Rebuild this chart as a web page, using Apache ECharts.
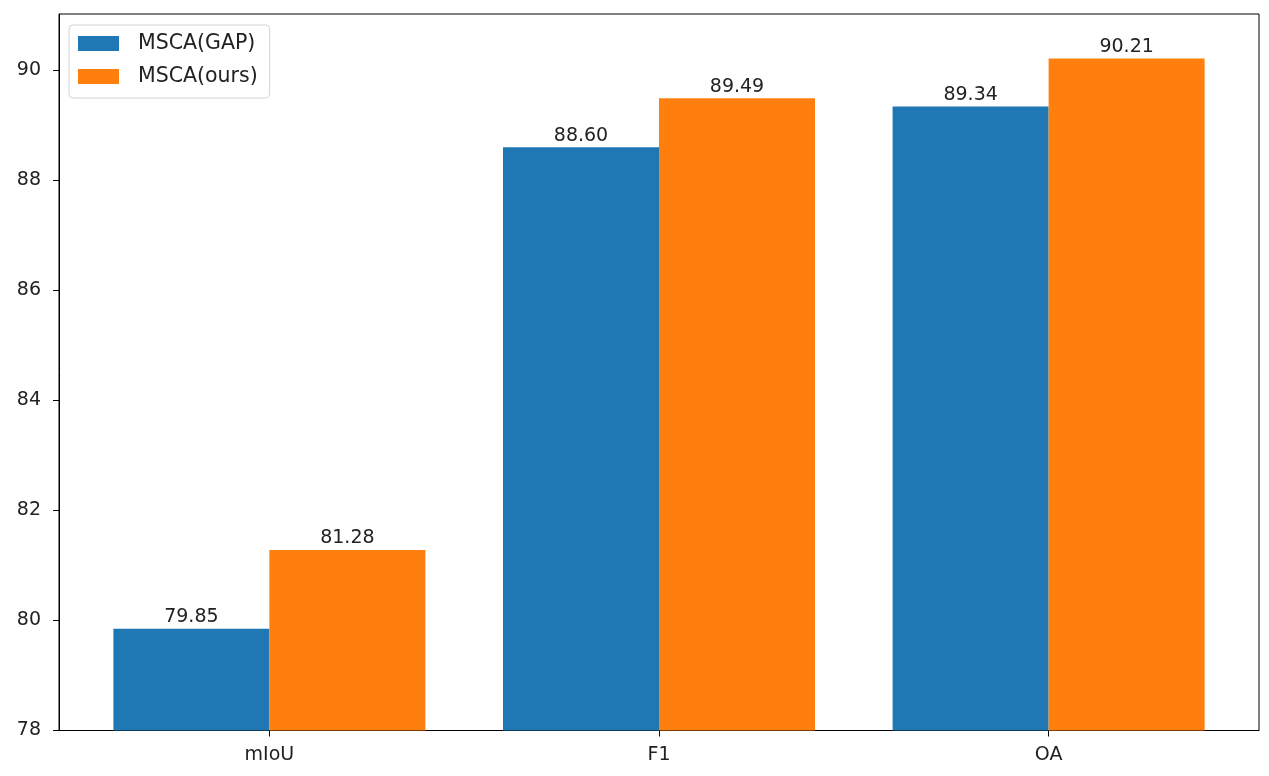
<!DOCTYPE html>
<html>
<head>
<meta charset="utf-8">
<script src="https://cdn.jsdelivr.net/npm/echarts@6/dist/echarts.min.js"></script>
<style>html,body{margin:0;padding:0;background:#fff;}#c{width:1269px;height:776px;}</style>
</head>
<body>
<div id="c"></div>
<script>
var categories = ['mIoU', 'F1', 'OA'];
var seriesNames = ['MSCA(GAP)', 'MSCA(ours)'];
var gapValues = [79.85, 88.60, 89.34];
var oursValues = [81.28, 89.49, 90.21];
var yTicks = [78, 80, 82, 84, 86, 88, 90];

var chart = echarts.init(document.getElementById('c'));
var font = 'DejaVu Sans';
function toPairs(arr) { return arr.map(function (v, i) { return [i, v]; }); }
var labelOpt = {
  show: true, position: 'top', distance: 2,
  fontFamily: font, fontSize: 19, color: '#222',
  formatter: function (p) { return p.value[1].toFixed(2); }
};
chart.setOption({
  animation: false,
  backgroundColor: '#fff',
  grid: { left: 59, right: 10, top: 14, bottom: 45.5, show: true, borderColor: '#000', borderWidth: 1, backgroundColor: 'transparent' },
  legend: {
    orient: 'vertical', left: 69, top: 25,
    itemWidth: 41, itemHeight: 15, itemGap: 12,
    padding: [8, 12, 11, 9],
    borderColor: '#d4d4d4', borderWidth: 1, borderRadius: 4,
    backgroundColor: 'rgba(255,255,255,0.8)',
    icon: 'rect',
    textStyle: { fontFamily: font, fontSize: 20.5, lineHeight: 20, color: '#222', padding: [0, 0, 0, 14] },
    data: seriesNames
  },
  xAxis: {
    type: 'value', min: -0.54, max: 2.54,
    splitLine: { show: false },
    axisLine: { show: true, onZero: false, lineStyle: { color: '#000', width: 1 } },
    axisTick: { show: true, length: 6, lineStyle: { color: '#000' }, customValues: [0, 1, 2] },
    axisLabel: {
      customValues: [0, 1, 2], margin: 15,
      fontFamily: font, fontSize: 19, color: '#222',
      formatter: function (v) { return categories[Math.round(v)]; }
    }
  },
  yAxis: {
    type: 'value', min: 78, max: 91.02,
    splitLine: { show: false },
    axisLine: { show: true, onZero: false, lineStyle: { color: '#000', width: 1 } },
    axisTick: { show: true, length: 6, lineStyle: { color: '#000' }, customValues: yTicks },
    axisLabel: { customValues: yTicks, margin: 18, fontFamily: font, fontSize: 19, color: '#222' }
  },
  series: [
    { name: seriesNames[0], type: 'bar', data: toPairs(gapValues), barWidth: 156, barGap: '0%', itemStyle: { color: '#1f77b4' }, label: labelOpt },
    { name: seriesNames[1], type: 'bar', data: toPairs(oursValues), barWidth: 156, barGap: '0%', itemStyle: { color: '#ff7f0e' }, label: labelOpt }
  ]
});
</script>
</body>
</html>
